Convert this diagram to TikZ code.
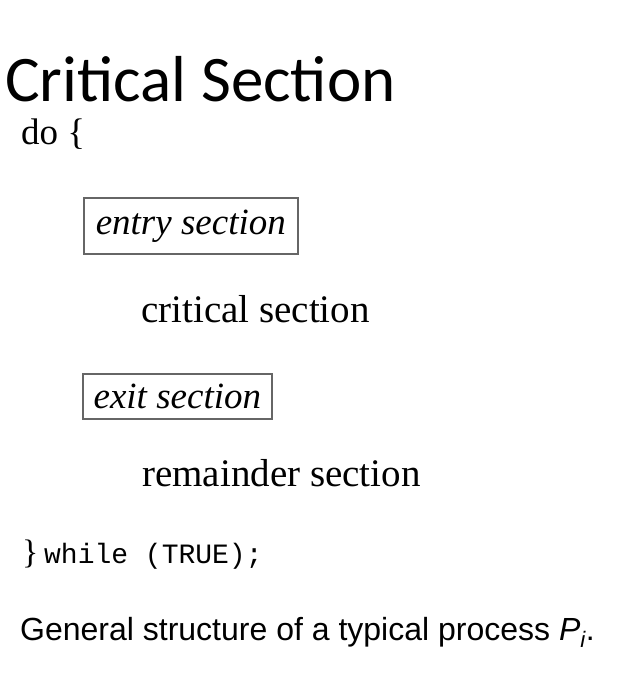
\documentclass[tikz,border=0pt]{standalone}
\usepackage{fontspec}
\setmainfont{Liberation Serif}
\setsansfont{Liberation Sans}
\setmonofont{Liberation Mono}
\newfontfamily\titlefont{Carlito}

\begin{document}
\begin{tikzpicture}[x=1pt, y=1pt,
    codeline/.style={anchor=base west, inner sep=0pt, font=\fontsize{39}{44}\selectfont},
    sectbox/.style={draw=black!60, line width=1.6pt, inner sep=0pt,
        font=\fontsize{37}{42}\selectfont\itshape}]
    % Page frame
    \useasboundingbox (0,0) rectangle (623,-695);

    % --- Title ---
    \node[anchor=base west, inner sep=0pt, font=\titlefont\fontsize{65}{70}\selectfont]
        (title) at (5,-102) {Critical Section};

    % --- Loop structure ---
    \node[codeline, font=\fontsize{37}{42}\selectfont] (doline) at (21,-145) {do \{};
    \node[sectbox, minimum width=214, minimum height=56, anchor=north west]
        (entry) at (83,-197) {entry section};
    \node[codeline] (crit) at (141,-322) {critical section};
    \node[sectbox, minimum width=189, minimum height=45, anchor=north west]
        (exit) at (82,-373) {exit section};
    \node[codeline] (rem) at (142,-486) {remainder section};
    \node[codeline, font=\fontsize{34}{40}\selectfont] (whileline) at (22,-563)
        {\}\,{\ttfamily\fontsize{28}{32}\selectfont while (TRUE);}};

    % --- Caption ---
    \node[anchor=base west, inner sep=0pt, font=\sffamily\fontsize{32}{36}\selectfont]
        (caption) at (20,-640) {General structure of a typical process {\itshape P}\textsubscript{\itshape i}.};
\end{tikzpicture}
\end{document}
